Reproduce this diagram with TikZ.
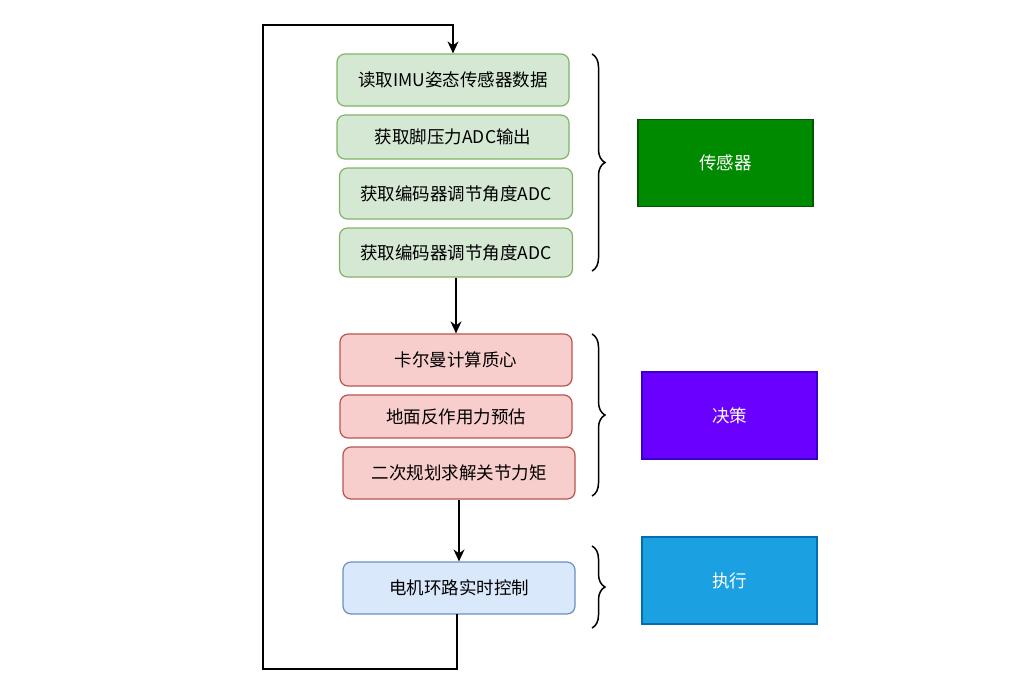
\documentclass[tikz,border=0pt]{standalone}
\usepackage{fontspec}
\setmainfont{Noto Sans CJK SC}
\usetikzlibrary{arrows.meta,decorations.pathreplacing}

\definecolor{verdeF}{HTML}{D5E8D4}
\definecolor{verdeB}{HTML}{82B366}
\definecolor{rojoF}{HTML}{F8CECC}
\definecolor{rojoB}{HTML}{B85450}
\definecolor{azulF}{HTML}{DAE8FC}
\definecolor{azulB}{HTML}{6C8EBF}
\definecolor{sensF}{HTML}{008A00}
\definecolor{sensB}{HTML}{005700}
\definecolor{decF}{HTML}{6A00FF}
\definecolor{decB}{HTML}{3700CC}
\definecolor{ejeF}{HTML}{1BA1E2}
\definecolor{ejeB}{HTML}{006EAF}

\tikzset{
    paso/.style={draw, rounded corners=8pt, line width=1.2pt, minimum width=232pt, align=center, font=\fontsize{17.5}{20}\selectfont},
    etapa/.style={draw, line width=1.2pt, minimum width=175pt, minimum height=87pt, text=white, font=\fontsize{17.5}{20}\selectfont},
    flecha/.style={line width=1.5pt, -{Stealth[length=12pt,width=11pt]}},
    llave/.style={line width=1.5pt, decorate, decoration={brace, amplitude=13pt}}
}

\begin{document}
\begin{tikzpicture}[x=1pt, y=-1pt]
    \useasboundingbox (0,0) rectangle (1025,697);

    % Sensores
    \node[paso, fill=verdeF, draw=verdeB, minimum height=52pt] (s1) at (453,80) {读取IMU姿态传感器数据};
    \node[paso, fill=verdeF, draw=verdeB, minimum height=44pt] (s2) at (453,137) {获取脚压力ADC输出};
    \node[paso, fill=verdeF, draw=verdeB, minimum width=233pt, minimum height=51pt] (s3) at (456,193.5) {获取编码器调节角度ADC};
    \node[paso, fill=verdeF, draw=verdeB, minimum width=233pt, minimum height=49pt] (s4) at (456,252.5) {获取编码器调节角度ADC};

    % Decision
    \node[paso, fill=rojoF, draw=rojoB, minimum height=52pt] (d1) at (456,360) {卡尔曼计算质心};
    \node[paso, fill=rojoF, draw=rojoB, minimum height=43pt] (d2) at (456,416.5) {地面反作用力预估};
    \node[paso, fill=rojoF, draw=rojoB, minimum height=52pt] (d3) at (459,473) {二次规划求解关节力矩};

    % Ejecucion
    \node[paso, fill=azulF, draw=azulB, minimum height=52pt] (m1) at (459,588) {电机环路实时控制};

    % Etapas
    \node[etapa, fill=sensF, draw=sensB] (sens) at (725.5,163) {传感器};
    \node[etapa, fill=decF, draw=decB] (dec) at (729.5,415.5) {决策};
    \node[etapa, fill=ejeF, draw=ejeB] (eje) at (729.5,580.5) {执行};

    % Llaves
    \draw[llave] (592,54) -- (592,271);
    \draw[llave] (592,334) -- (592,496);
    \draw[llave] (592,546) -- (592,628);

    % Flechas
    \draw[flecha] (s4.south) -- (s4.south |- d1.north);
    \draw[flecha] (d3.south) -- (d3.south |- m1.north);

    % Lazo de vuelta
    \coordinate (salida) at (457,614);
    \coordinate (abajo) at (263,669);
    \coordinate (arriba) at (263,25);
    \draw[flecha] (salida) |- (abajo) -- (arriba) -| (s1.north);
\end{tikzpicture}
\end{document}
